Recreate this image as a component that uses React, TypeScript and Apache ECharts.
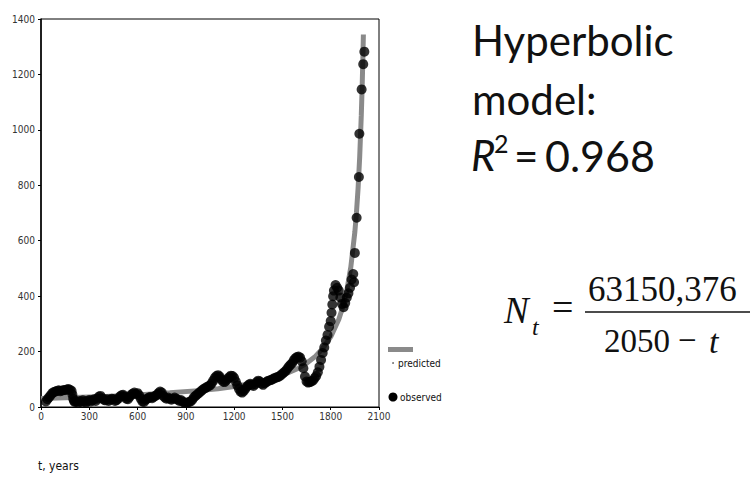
import React, { useEffect, useRef } from "react";
import * as echarts from "echarts";

const obsYears = [
  30, 40, 50, 60, 70, 80, 90, 100, 110, 120, 130, 140, 150, 160, 170, 180, 190, 195, 200, 205,
  210, 220, 230, 240, 250, 260, 270, 280, 290, 300, 310, 320, 330, 340, 350, 360, 370, 380, 390, 400,
  410, 420, 430, 440, 450, 460, 470, 480, 490, 500, 510, 520, 530, 540, 550, 560, 570, 580, 590, 600,
  610, 620, 630, 640, 650, 660, 670, 680, 690, 700, 710, 720, 730, 740, 750, 760, 770, 780, 790, 800,
  810, 820, 830, 840, 850, 860, 870, 880, 890, 900, 910, 920, 930, 940, 950, 960, 970, 980, 990, 1000,
  1010, 1020, 1030, 1040, 1050, 1060, 1070, 1080, 1090, 1100, 1110, 1120, 1130, 1140, 1150, 1160, 1170, 1180, 1190, 1200,
  1210, 1220, 1230, 1240, 1250, 1260, 1270, 1280, 1290, 1300, 1310, 1320, 1330, 1340, 1350, 1360, 1370, 1380, 1390, 1400,
  1410, 1420, 1430, 1440, 1450, 1460, 1470, 1480, 1490, 1500, 1510, 1520, 1530, 1540, 1550, 1560, 1570, 1580, 1590, 1600,
  1610, 1620, 1630, 1640, 1650, 1660, 1670, 1680, 1690, 1700, 1710, 1720, 1730, 1740, 1750, 1760, 1770, 1780, 1790, 1800,
  1805, 1810, 1815, 1820, 1830, 1840, 1850, 1860, 1870, 1880, 1890, 1900, 1910, 1920, 1930, 1940, 1945, 1950, 1961, 1975,
  1978, 1992, 2002, 2009,
];
const obsValues = [
  20, 28, 35, 42, 50, 54, 56, 58, 60, 57, 59, 61, 60, 63, 65, 62, 58, 45, 30, 22,
  18, 20, 16, 22, 18, 24, 20, 16, 22, 25, 20, 24, 28, 22, 30, 38, 40, 32, 26, 24,
  28, 22, 26, 30, 28, 22, 25, 30, 38, 42, 44, 38, 30, 28, 36, 44, 48, 52, 46, 50,
  42, 30, 20, 18, 26, 30, 34, 36, 32, 36, 40, 44, 50, 56, 52, 40, 34, 30, 34, 30,
  26, 30, 34, 30, 26, 22, 25, 20, 16, 14, 16, 18, 20, 26, 35, 40, 45, 50, 55, 60,
  65, 68, 72, 75, 78, 85, 95, 105, 112, 115, 110, 100, 92, 90, 95, 102, 108, 113, 112, 105,
  92, 78, 65, 55, 52, 58, 66, 74, 80, 84, 80, 76, 82, 90, 95, 92, 84, 80, 86, 90,
  94, 96, 98, 100, 104, 106, 108, 110, 115, 120, 125, 130, 138, 146, 152, 158, 168, 176, 180, 182,
  178, 165, 140, 110, 92, 88, 90, 92, 96, 104, 112, 125, 145, 170, 195, 215, 240, 260, 290, 310,
  340, 370, 400, 420, 440, 430, 420, 395, 372, 360, 375, 395, 410, 430, 460, 480, 450, 556, 683, 830,
  986, 1146, 1237, 1282,
];

const predYears = [
  0, 200, 400, 600, 800, 1000, 1100, 1200, 1300, 1400, 1500, 1600, 1650, 1700, 1750, 1800,
  1850, 1875, 1900, 1925, 1950, 1960, 1970, 1980, 1990, 1995, 2000, 2003,
];
const predValues = [
  31, 34, 38, 43, 51, 60, 66, 74, 84, 97, 115, 140, 158, 180, 211, 253,
  316, 361, 421, 505, 632, 702, 789, 902, 1053, 1148, 1263, 1344,
];

const xTicks = { min: 0, max: 2100, interval: 300 };
const yTicks = { min: 0, max: 1400, interval: 200 };

const legendLabels = ["predicted", "observed"];
const xAxisTitle = "t, years";

const narrow = "'DejaVu Sans Condensed', 'Liberation Sans Narrow', 'Liberation Sans', sans-serif";
const sans = "Lato, 'Open Sans', sans-serif";
const serif = "'Liberation Serif', 'Times New Roman', serif";

export default function App() {
  const ref = useRef<HTMLDivElement>(null);
  useEffect(() => {
    if (!ref.current) return;
    const chart = echarts.init(ref.current, undefined, { renderer: "svg" });
    const observed = obsYears.map((t, i) => [t, obsValues[i]]);
    const predicted = predYears.map((t, i) => [t, predValues[i]]);
    const txt = (x: number, y: number, text: string, font: string) => ({
      type: "text",
      style: { x, y, text, font, fill: "#111", verticalAlign: "middle" },
    });
    chart.setOption({
      animation: false,
      backgroundColor: "#fff",
      grid: {
        left: 41,
        right: 371,
        top: 19,
        bottom: 70,
        show: true,
        borderColor: "#000",
        borderWidth: 1,
        containLabel: false,
      },
      xAxis: {
        type: "value",
        min: xTicks.min,
        max: xTicks.max,
        interval: xTicks.interval,
        splitLine: { show: false },
        axisLine: { lineStyle: { color: "#000", width: 1 } },
        axisTick: { show: true, length: 3, lineStyle: { color: "#000" } },
        axisLabel: { fontFamily: narrow, fontSize: 10, color: "#333", margin: 4, formatter: (v: number) => String(v) },
      },
      yAxis: {
        type: "value",
        min: yTicks.min,
        max: yTicks.max,
        interval: yTicks.interval,
        splitLine: { show: false },
        axisLine: { lineStyle: { color: "#000", width: 1.5 } },
        axisTick: { show: true, length: 3, lineStyle: { color: "#000" } },
        axisLabel: { fontFamily: narrow, fontSize: 10, color: "#333", margin: 6, formatter: (v: number) => String(v) },
      },
      series: [
        {
          name: legendLabels[0],
          type: "line",
          data: predicted,
          showSymbol: false,
          symbol: "none",
          lineStyle: { color: "#8a8a8a", width: 5 },
          z: 1,
        },
        {
          name: legendLabels[1],
          type: "scatter",
          data: observed,
          symbol: "circle",
          symbolSize: 10,
          itemStyle: { color: "#000" },
          z: 2,
        },
      ],
      graphic: [
        { type: "rect", shape: { x: 388, y: 347, width: 25, height: 5 }, style: { fill: "#8a8a8a" } },
        { type: "circle", shape: { cx: 393, cy: 363, r: 0.8 }, style: { fill: "#555" } },
        txt(398, 363, legendLabels[0], `10px ${narrow}`),
        { type: "circle", shape: { cx: 393, cy: 397, r: 4.5 }, style: { fill: "#000" } },
        txt(400, 397, legendLabels[1], `10px ${narrow}`),
        txt(38, 466, xAxisTitle, `12px ${narrow}`),
        txt(472, 40, "Hyperbolic", `42px ${sans}`),
        txt(472, 99, "model:", `42px ${sans}`),
        txt(471, 155, "R", `italic 42px ${sans}`),
        txt(494, 143, "2", `25px ${sans}`),
        txt(514, 155, "=", `42px ${sans}`),
        txt(545, 155, "0.968", `43px ${sans}`),
        txt(504, 310, "N", `italic 37px ${serif}`),
        txt(532, 327, "t", `italic 24px ${serif}`),
        txt(552, 307, "=", `38px ${serif}`),
        txt(588, 289, "63150,376", `35px ${serif}`),
        { type: "line", shape: { x1: 585, y1: 312, x2: 750, y2: 312 }, style: { stroke: "#111", lineWidth: 1.5 } },
        txt(604, 341, "2050", `33px ${serif}`),
        txt(678, 340, "\u2212", `33px ${serif}`),
        txt(709, 341, "t", `italic 34px ${serif}`),
      ],
    });
    return () => chart.dispose();
  }, []);
  return <div ref={ref} style={{ position: "fixed", left: 0, top: 0, width: 750, height: 477 }} />;
}
